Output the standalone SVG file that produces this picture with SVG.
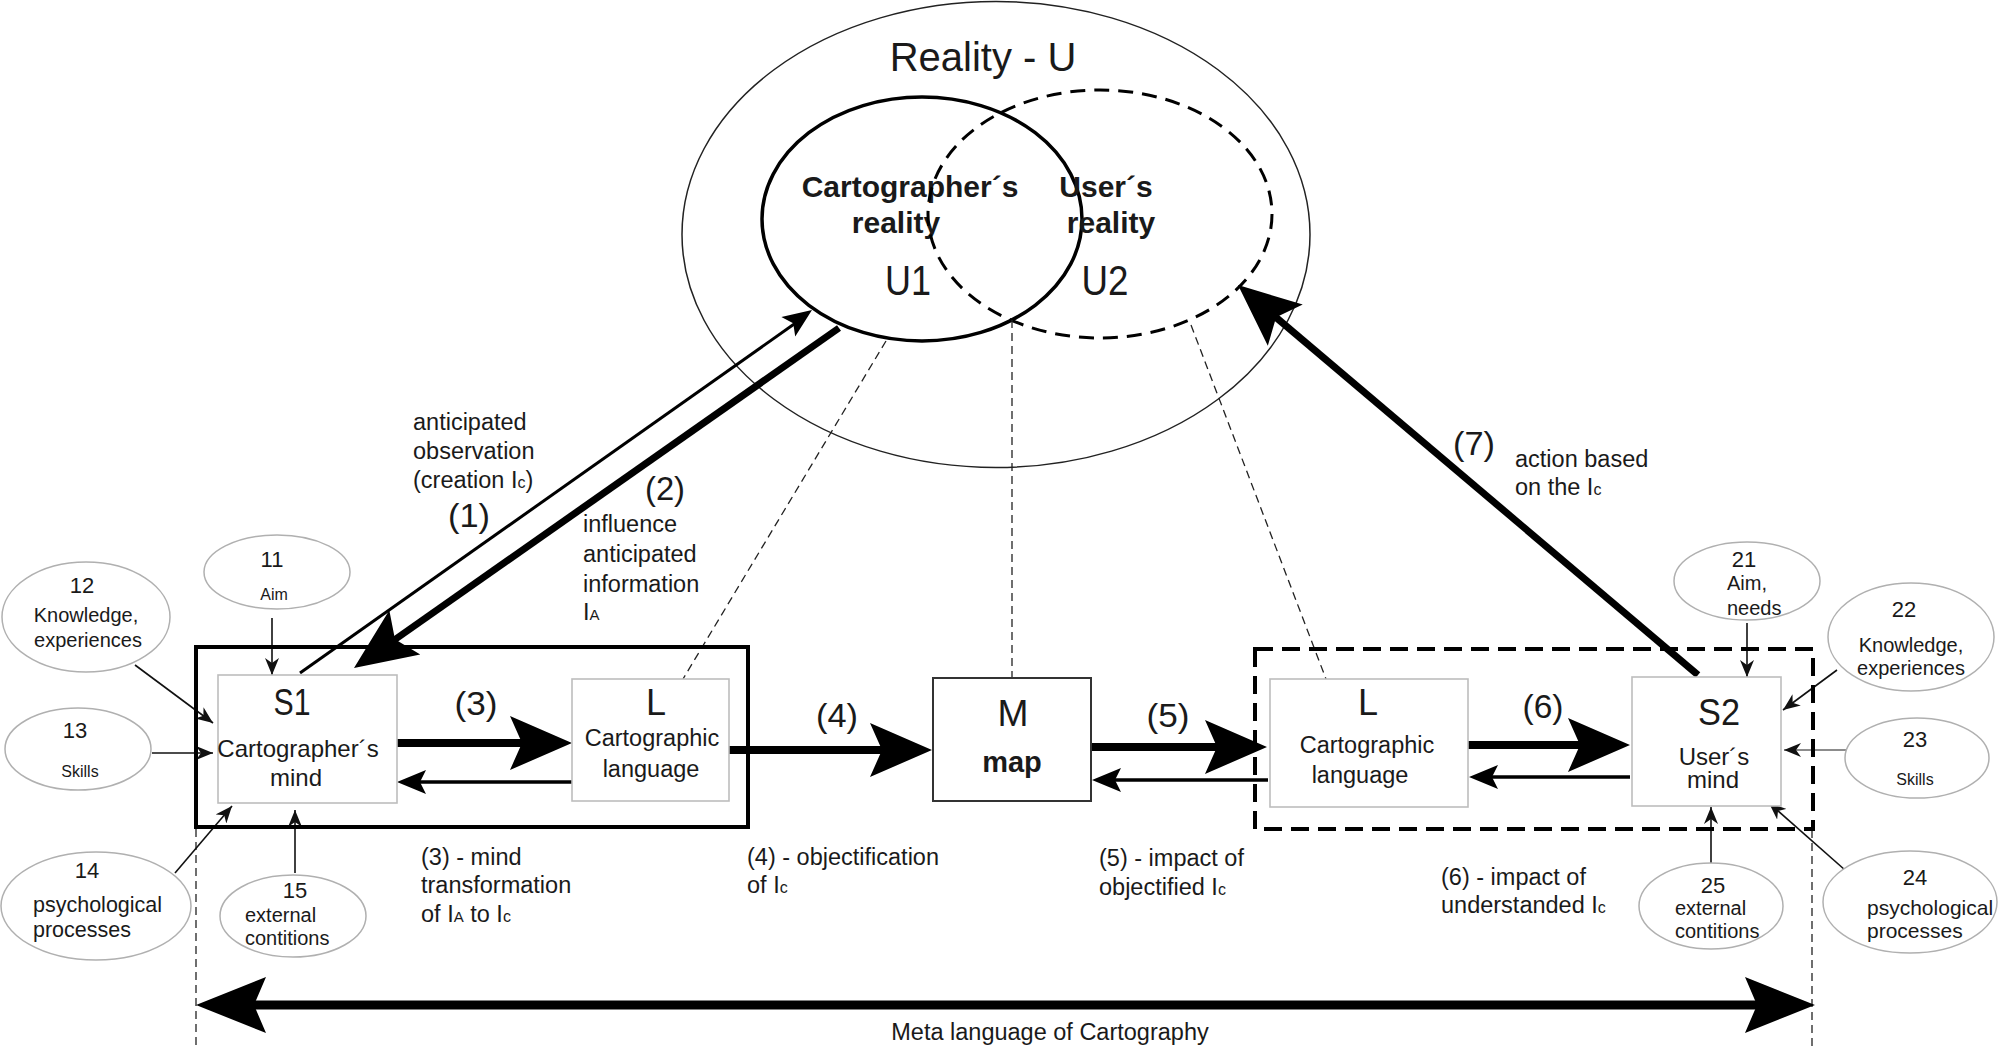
<svg xmlns="http://www.w3.org/2000/svg" xmlns:xlink="http://www.w3.org/1999/xlink" width="2008" height="1046" viewBox="0 0 2008 1046">
<style>
text{font-family:"Liberation Sans",Arial,sans-serif;fill:#1a1a1a}
.c{text-anchor:middle}
.b{font-weight:bold}
.big{font-size:36px}
.num{font-size:34px}
.desc{font-size:23.5px}
.en{font-size:22px}
.el{font-size:20px}
.sm{font-size:16px}
.ell{fill:#fff;stroke:#b0b0b0;stroke-width:1.5}
.box{fill:#fff;stroke:#bdbdbd;stroke-width:1.6}
.thin{stroke:#111;stroke-width:1.6;fill:none;marker-end:url(#ah)}
.dl{stroke:#222;stroke-width:1.3;fill:none;stroke-dasharray:8 5}
.thick{stroke:#000;stroke-width:8;fill:none}
.med{stroke:#000;stroke-width:3.5;fill:none}
.head{fill:#000}
</style>
<defs>
<marker id="ah" markerUnits="userSpaceOnUse" markerWidth="18" markerHeight="14" refX="17" refY="7" orient="auto" viewBox="0 0 18 14"><path d="M0,0 L17,7 L0,14 L5,7 Z" fill="#111"/></marker>
<path id="hb" d="M0,0 L-62,-27 L-50,0 L-62,27 Z"/>
<path id="hm" d="M0,0 L-29,-12 L-23,0 L-29,12 Z"/>
<path id="hw" d="M0,0 L-70,-28 L-58,0 L-70,28 Z"/>
</defs>
<rect width="2008" height="1046" fill="#fff"/>

<g id="reality">
<ellipse cx="996" cy="234.5" rx="314" ry="233" fill="none" stroke="#222" stroke-width="1.5"/>
<text class="c" x="983" y="71" style="font-size:40px">Reality - U</text>
</g>
<g id="U1">
<ellipse cx="922" cy="219" rx="160" ry="122" fill="none" stroke="#000" stroke-width="3.5"/>
<text class="c b" x="910" y="197" style="font-size:30px">Cartographer´s</text>
<text class="c b" x="896" y="233" style="font-size:30px">reality</text>
<text class="c" x="908" y="295" style="font-size:42px" textLength="46" lengthAdjust="spacingAndGlyphs">U1</text>
</g>
<g id="U2">
<ellipse cx="1100" cy="214" rx="172" ry="124" fill="none" stroke="#000" stroke-width="3" stroke-dasharray="15 9"/>
<text class="c b" x="1106" y="197" style="font-size:30px">User´s</text>
<text class="c b" x="1111" y="233" style="font-size:30px">reality</text>
<text class="c" x="1105" y="295" style="font-size:42px" textLength="47" lengthAdjust="spacingAndGlyphs">U2</text>
</g>

<g id="connectors">
<line class="dl" x1="886" y1="341" x2="683" y2="679"/>
<line class="dl" x1="1012" y1="320" x2="1012" y2="678"/>
<line class="dl" x1="1191" y1="325" x2="1326" y2="679"/>
<line class="dl" x1="196" y1="829" x2="196" y2="1046" stroke-dasharray="9 6"/>
<line class="dl" x1="1812" y1="830" x2="1812" y2="1046" stroke-dasharray="9 6"/>
<line x1="300" y1="673" x2="797" y2="322" stroke="#000" stroke-width="3"/>
<use href="#hm" class="head" transform="translate(812,310) rotate(-35.2)"/>
<line x1="839" y1="328" x2="390" y2="643" stroke="#000" stroke-width="7"/>
<use href="#hb" class="head" transform="translate(354,668) rotate(145)"/>
<line x1="1698" y1="675" x2="1272" y2="314" stroke="#000" stroke-width="7"/>
<use href="#hb" class="head" transform="translate(1238,285) rotate(-139.7)"/>
<line class="thick" x1="397" y1="743" x2="525" y2="743"/>
<use href="#hb" class="head" transform="translate(572,743)"/>
<line class="med" x1="572" y1="782" x2="418" y2="782"/>
<use href="#hm" class="head" transform="translate(397,782) rotate(180)"/>
<line class="thick" x1="729" y1="750" x2="885" y2="750"/>
<use href="#hb" class="head" transform="translate(932,750)"/>
<line class="thick" x1="1091" y1="747" x2="1220" y2="747"/>
<use href="#hb" class="head" transform="translate(1267,747)"/>
<line class="med" x1="1268" y1="780" x2="1113" y2="780"/>
<use href="#hm" class="head" transform="translate(1092,780) rotate(180)"/>
<line class="thick" x1="1468" y1="745" x2="1585" y2="745"/>
<use href="#hb" class="head" transform="translate(1630,745)"/>
<line class="med" x1="1630" y1="777" x2="1490" y2="777"/>
<use href="#hm" class="head" transform="translate(1469,777) rotate(180)"/>
<line x1="245" y1="1005" x2="1766" y2="1005" stroke="#000" stroke-width="9"/>
<use href="#hw" class="head" transform="translate(196,1005) rotate(180)"/>
<use href="#hw" class="head" transform="translate(1815,1005)"/>
<line class="thin" x1="272" y1="618" x2="272" y2="675"/>
<line class="thin" x1="135" y1="665" x2="213" y2="723"/>
<line class="thin" x1="152" y1="753" x2="213" y2="753"/>
<line class="thin" x1="175" y1="873" x2="232" y2="806"/>
<line class="thin" x1="295" y1="873" x2="295" y2="810"/>
<line class="thin" x1="1747" y1="623" x2="1747" y2="677"/>
<line class="thin" x1="1837" y1="670" x2="1783" y2="710"/>
<line class="thin" x1="1847" y1="750" x2="1784" y2="750" style="stroke:#666"/>
<line class="thin" x1="1845" y1="870" x2="1769" y2="803"/>
<line class="thin" x1="1711" y1="872" x2="1711" y2="807"/>
</g>

<g id="labels">
<text x="413" y="430" class="desc">anticipated</text>
<text x="413" y="459" class="desc">observation</text>
<text x="413" y="488" class="desc">(creation I<tspan style="font-size:16px">c</tspan>)</text>
<text class="c num" x="469" y="527" textLength="42" lengthAdjust="spacingAndGlyphs">(1)</text>
<text class="c num" x="665" y="500" textLength="40" lengthAdjust="spacingAndGlyphs">(2)</text>
<text x="583" y="532" class="desc">influence</text>
<text x="583" y="562" class="desc">anticipated</text>
<text x="583" y="592" class="desc">information</text>
<text x="583" y="620" class="desc">I<tspan style="font-size:15px">A</tspan></text>
<text class="c num" x="1474" y="455" textLength="42" lengthAdjust="spacingAndGlyphs">(7)</text>
<text x="1515" y="467" class="desc">action based</text>
<text x="1515" y="495" class="desc">on the I<tspan style="font-size:16px">c</tspan></text>
<text class="c num" x="476" y="715" textLength="43" lengthAdjust="spacingAndGlyphs">(3)</text>
<text class="c num" x="837" y="727" textLength="42" lengthAdjust="spacingAndGlyphs">(4)</text>
<text class="c num" x="1168" y="727" textLength="43" lengthAdjust="spacingAndGlyphs">(5)</text>
<text class="c num" x="1543" y="718" textLength="41" lengthAdjust="spacingAndGlyphs">(6)</text>
<text x="421" y="865" class="desc">(3) - mind</text>
<text x="421" y="893" class="desc">transformation</text>
<text x="421" y="922" class="desc">of I<tspan style="font-size:15px">A</tspan> to I<tspan style="font-size:16px">c</tspan></text>
<text x="747" y="865" class="desc">(4) - objectification</text>
<text x="747" y="893" class="desc">of I<tspan style="font-size:16px">c</tspan></text>
<text x="1099" y="866" class="desc">(5) - impact of</text>
<text x="1099" y="895" class="desc">objectified I<tspan style="font-size:16px">c</tspan></text>
<text x="1441" y="885" class="desc">(6) - impact of</text>
<text x="1441" y="913" class="desc">understanded I<tspan style="font-size:16px">c</tspan></text>
<text class="c desc" x="1050" y="1040">Meta language of Cartography</text>
</g>

<g id="cartographer-group">
<rect x="196" y="647" width="552" height="180" fill="none" stroke="#000" stroke-width="4"/>
</g>
<g id="user-group">
<rect x="1255" y="649" width="558" height="180" fill="none" stroke="#000" stroke-width="4" stroke-dasharray="18 9"/>
</g>

<g id="S1">
<rect class="box" x="218" y="675" width="179" height="128"/>
<text class="c big" x="292" y="715" textLength="37" lengthAdjust="spacingAndGlyphs">S1</text>
<text class="c" x="298" y="757" style="font-size:24px">Cartographer´s</text>
<text class="c" x="296" y="786" style="font-size:24px">mind</text>
</g>
<g id="L1">
<rect class="box" x="572" y="679" width="157" height="122"/>
<text class="c big" x="656" y="715">L</text>
<text class="c" x="652" y="746" style="font-size:23.5px">Cartographic</text>
<text class="c" x="651" y="777" style="font-size:23.5px">language</text>
</g>
<g id="M">
<rect x="933" y="678" width="158" height="123" fill="#fff" stroke="#333" stroke-width="2"/>
<text class="c big" x="1013" y="726" textLength="31" lengthAdjust="spacingAndGlyphs">M</text>
<text class="c b" x="1012" y="772" style="font-size:29px">map</text>
</g>
<g id="L2">
<rect class="box" x="1270" y="679" width="198" height="128"/>
<text class="c big" x="1368" y="715">L</text>
<text class="c" x="1367" y="753" style="font-size:23.5px">Cartographic</text>
<text class="c" x="1360" y="783" style="font-size:23.5px">language</text>
</g>
<g id="S2">
<rect class="box" x="1632" y="677" width="149" height="129"/>
<text class="c big" x="1719" y="725" textLength="42" lengthAdjust="spacingAndGlyphs">S2</text>
<text class="c" x="1714" y="765" style="font-size:24px">User´s</text>
<text class="c" x="1713" y="788" style="font-size:24px">mind</text>
</g>

<g id="n11"><ellipse class="ell" cx="277" cy="572" rx="73" ry="37"/>
<text class="c en" x="272" y="567">11</text><text class="c sm" x="274" y="600">Aim</text></g>
<g id="n12"><ellipse class="ell" cx="86" cy="617" rx="84" ry="55"/>
<text class="c en" x="82" y="593">12</text><text class="c el" x="86" y="622">Knowledge,</text><text class="c el" x="88" y="647">experiences</text></g>
<g id="n13"><ellipse class="ell" cx="78" cy="749" rx="73" ry="41"/>
<text class="c en" x="75" y="738">13</text><text class="c sm" x="80" y="777">Skills</text></g>
<g id="n14"><ellipse class="ell" cx="96" cy="906" rx="95" ry="54"/>
<text class="c en" x="87" y="878">14</text><text x="33" y="912" style="font-size:21.5px">psychological</text><text x="33" y="937" style="font-size:21.5px">processes</text></g>
<g id="n15"><ellipse class="ell" cx="293" cy="916" rx="73" ry="41"/>
<text class="c en" x="295" y="898">15</text><text class="el" x="245" y="922">external</text><text class="el" x="245" y="945">contitions</text></g>

<g id="n21"><ellipse class="ell" cx="1747" cy="581" rx="73" ry="39"/>
<text class="c en" x="1744" y="567">21</text><text class="el" x="1727" y="590">Aim,</text><text class="el" x="1727" y="615">needs</text></g>
<g id="n22"><ellipse class="ell" cx="1911" cy="637" rx="83" ry="54"/>
<text class="c en" x="1904" y="617">22</text><text class="c el" x="1911" y="652">Knowledge,</text><text class="c el" x="1911" y="675">experiences</text></g>
<g id="n23"><ellipse class="ell" cx="1917" cy="758" rx="72" ry="40"/>
<text class="c en" x="1915" y="747">23</text><text class="c sm" x="1915" y="785">Skills</text></g>
<g id="n24"><ellipse class="ell" cx="1910" cy="902" rx="87" ry="51"/>
<text class="c en" x="1915" y="885">24</text><text x="1867" y="915" style="font-size:21px">psychological</text><text x="1867" y="938" style="font-size:21px">processes</text></g>
<g id="n25"><ellipse class="ell" cx="1711" cy="906" rx="72" ry="43"/>
<text class="c en" x="1713" y="893">25</text><text class="el" x="1675" y="915">external</text><text class="el" x="1675" y="938">contitions</text></g>
</svg>
